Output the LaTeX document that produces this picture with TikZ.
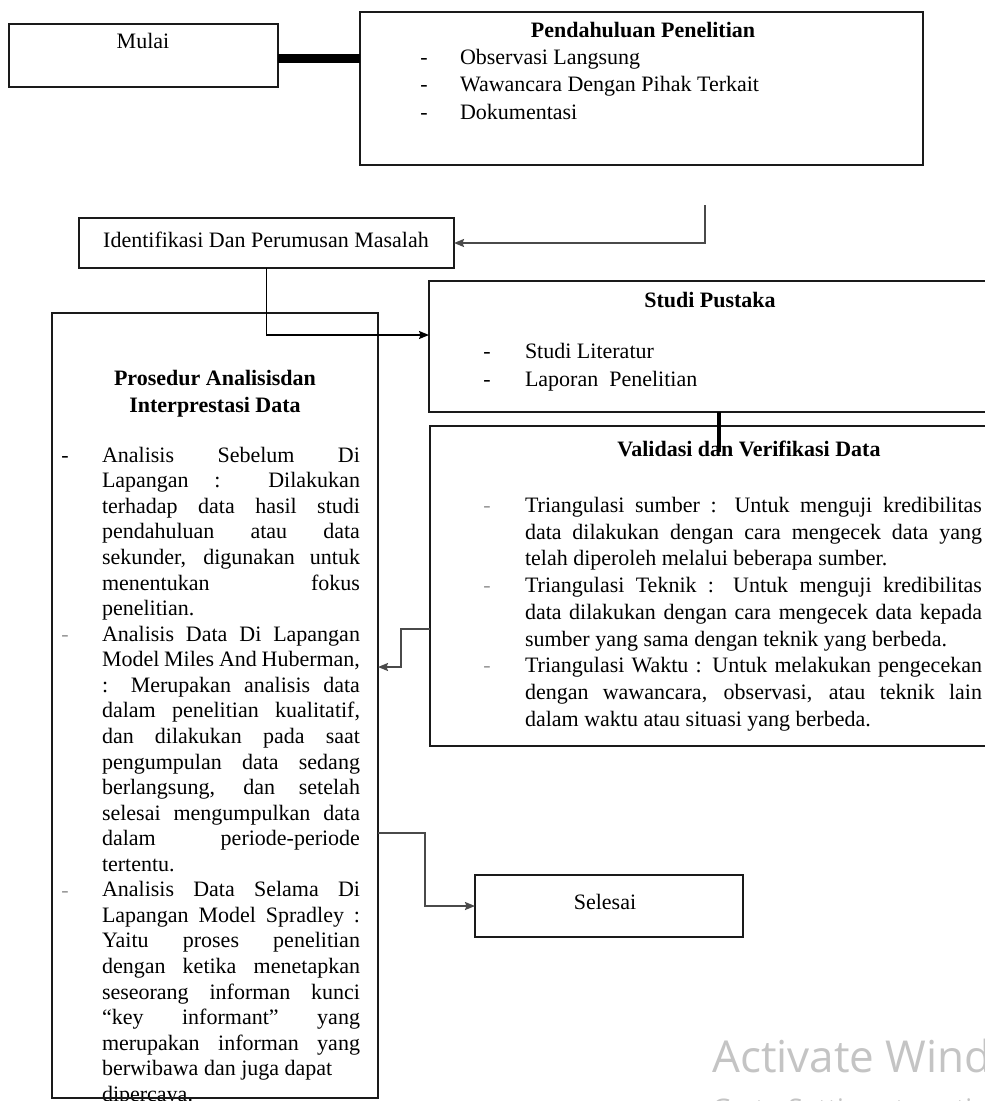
\documentclass[tikz,border=0pt]{standalone}
\usepackage{fontspec}
\setmainfont{Liberation Serif}
\newfontfamily\wmfont{Open Sans}
\usetikzlibrary{arrows.meta,calc}
\definecolor{conncol}{HTML}{4A4A4A}
\definecolor{boxline}{HTML}{1A1A1A}
\definecolor{wmcol}{HTML}{C4C4C4}
\definecolor{bulcol}{HTML}{9A9A9A}
\newcommand{\jline}[1]{\makebox[\linewidth][s]{#1}}
\begin{document}
\begin{tikzpicture}[x=1pt,y=-1pt,
  box/.style={draw=boxline,line width=1.8pt,rectangle,anchor=north west,inner sep=0pt,outer sep=0pt},
  txt/.style={inner sep=0pt,outer sep=0pt,anchor=mid,yshift=-4pt,font=\fontsize{22}{25.56}\selectfont,text=black},
  bul/.style={txt,text=bulcol},
  conn/.style={draw=conncol,line width=1.6pt},
  connb/.style={draw=black,line width=1.4pt},
  tip/.style={-{Stealth[length=10pt,width=8pt,inset=1.5pt]}},
  wm/.style={anchor=base west,inner sep=0pt,text=wmcol}
]
\useasboundingbox (0,0) rectangle (985,1101);
\clip (0,0) rectangle (985,1101);

% boxes
\node[box,minimum width=269,minimum height=63] (mulai) at (9,24) {};
\node[box,minimum width=563,minimum height=153] (pend) at (360,12) {};
\node[box,minimum width=375,minimum height=50] (ident) at (79,218) {};
\node[box,minimum width=580,minimum height=131] (studi) at (429,281) {};
\node[box,minimum width=570,minimum height=320] (valid) at (430,426) {};
\node[box,minimum width=326,minimum height=785] (pros) at (52,313) {};
\node[box,minimum width=268,minimum height=62] (sel) at (475,875) {};

% Mulai
\node[txt] (mulaitxt) at (143,42) {Mulai};

% Pendahuluan
\node[txt] (pendt) at (643,31) {\textbf{Pendahuluan Penelitian}};
\node[txt] (pd1) at (424,58) {-};
\node[txt] (pd2) at (424,85) {-};
\node[txt] (pd3) at (424,113) {-};
\node[txt,anchor=mid west] (pi1) at (460,58) {Observasi Langsung};
\node[txt,anchor=mid west] (pi2) at (460,85) {Wawancara Dengan Pihak Terkait};
\node[txt,anchor=mid west] (pi3) at (460,113) {Dokumentasi};

% Identifikasi
\node[txt] (identtxt) at (266,241) {Identifikasi Dan Perumusan Masalah};

% Studi Pustaka
\node[txt] (studit) at (710,301) {\textbf{Studi Pustaka}};
\node[txt] (sd1) at (487,352) {-};
\node[txt] (sd2) at (487,380) {-};
\node[txt,anchor=mid west] (si1) at (525,352) {Studi Literatur};
\node[txt,anchor=mid west] (si2) at (525,380) {Laporan~ Penelitian};

% Validasi
\node[txt] (validt) at (749,450) {\textbf{Validasi dan Verifikasi Data}};
\node[bul] (vb1) at (487,506) {-};
\node[bul] (vb2) at (487,586) {-};
\node[bul] (vb3) at (487,666) {-};
\node[txt,anchor=mid west] (validbody) at (525,506) {\parbox[t]{457pt}{\fontsize{22}{26.75}\selectfont
\jline{Triangulasi sumber : Untuk menguji kredibilitas}\\
\jline{data dilakukan dengan cara mengecek data yang}\\
telah diperoleh melalui beberapa sumber.\\
\jline{Triangulasi Teknik : Untuk menguji kredibilitas}\\
\jline{data dilakukan dengan cara mengecek data kepada}\\
sumber yang sama dengan teknik yang berbeda.\\
\jline{Triangulasi Waktu : Untuk melakukan pengecekan}\\
\jline{dengan wawancara, observasi, atau teknik lain}\\
dalam waktu atau situasi yang berbeda.}};

% Prosedur
\node[txt] (prost1) at (215,379) {\textbf{Prosedur Analisisdan}};
\node[txt] (prost2) at (215,406) {\textbf{Interprestasi Data}};
\node[txt] (pb1) at (65,456) {-};
\node[bul] (pb2) at (65,635) {-};
\node[bul] (pb3) at (65,891) {-};
\node[txt,anchor=mid west] (prosbody) at (102,456) {\parbox[t]{258pt}{\fontsize{22}{25.56}\selectfont
\jline{Analisis Sebelum Di}\\
\jline{Lapangan : Dilakukan}\\
\jline{terhadap data hasil studi}\\
\jline{pendahuluan atau data}\\
\jline{sekunder, digunakan untuk}\\
\jline{menentukan fokus}\\
penelitian.\\
\jline{Analisis Data Di Lapangan}\\
\jline{Model Miles And Huberman,}\\
\jline{: Merupakan analisis data}\\
\jline{dalam penelitian kualitatif,}\\
\jline{dan dilakukan pada saat}\\
\jline{pengumpulan data sedang}\\
\jline{berlangsung, dan setelah}\\
\jline{selesai mengumpulkan data}\\
\jline{dalam periode-periode}\\
tertentu.\\
\jline{Analisis Data Selama Di}\\
\jline{Lapangan Model Spradley :}\\
\jline{Yaitu proses penelitian}\\
\jline{dengan ketika menetapkan}\\
\jline{seseorang informan kunci}\\
\jline{``key informant'' yang}\\
\jline{merupakan informan yang}\\
berwibawa dan juga dapat\\
dipercaya.}};
% redraw bottom edge of Prosedur over the cut text
\draw[draw=boxline,line width=1.8pt] (pros.south west) -- (pros.south east);

% Selesai
\node[txt] (seltxt) at (605,903) {Selesai};

% connectors
\coordinate (m1) at ([yshift=-3pt]mulai.east);
\draw[draw=black,line width=9pt] (m1) -- (m1 -| pend.west);

\coordinate (c1) at (705,205);
\draw[conn,tip] (c1) |- (ident.east);

\draw[connb,tip] (ident.south) |- ([yshift=11.5pt]studi.west);

\coordinate (tx) at (719,452);
\draw[draw=black,line width=4pt] (tx |- studi.south) -- (tx);

\draw[conn,tip] ([yshift=-43pt]valid.west) -- ++(-29,0) |- ([yshift=38.5pt]pros.east);

\draw[conn,tip] ([yshift=-127.5pt]pros.east) -- ++(47,0) |- (sel.west);

% watermark
\node[wm,font=\wmfont\fontsize{44}{44}\selectfont] (wm1) at (712,1072) {Activate Windows};
\node[wm,font=\wmfont\fontsize{27}{27}\selectfont] (wm2) at (712,1118) {Go to Settings to activate Windows.};
\end{tikzpicture}
\end{document}
